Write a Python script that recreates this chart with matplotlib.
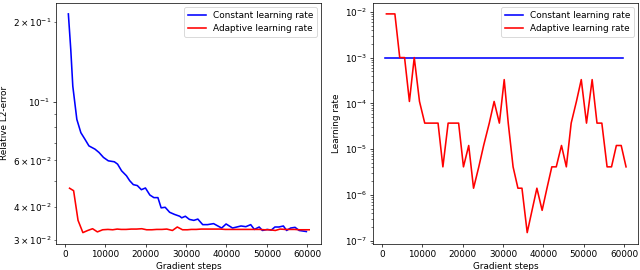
import matplotlib
matplotlib.use("Agg")
import matplotlib.pyplot as plt

# Data

# constant learning rate run (blue)
blue_steps = [800, 1400, 1900, 2900, 3900, 4900, 5900, 7400, 8400, 9500,
              10700, 12200, 13000, 14000, 15200, 16000, 16900, 17900, 18900, 19900,
              21000, 22000, 23000, 23800, 24800, 25900, 27100, 28400, 28900, 29800,
              30800, 31900, 32900, 34100, 35300, 36800, 38800, 39900, 41500, 43600,
              44800, 46000, 46900, 48100, 48900, 50100, 51100, 52000, 53000, 54100,
              54900, 55900, 57000, 58000, 59800]
blue_error = [0.2150, 0.1574, 0.1146, 0.0858, 0.0764, 0.0722, 0.0681, 0.0662, 0.0643, 0.0616,
              0.0598, 0.0593, 0.0581, 0.0548, 0.0525, 0.0503, 0.0486, 0.0482, 0.0465, 0.0472,
              0.0444, 0.0434, 0.0434, 0.0397, 0.0399, 0.0382, 0.0375, 0.0369, 0.0364, 0.0369,
              0.0359, 0.0356, 0.0360, 0.0343, 0.0343, 0.0346, 0.0333, 0.0345, 0.0333, 0.0339,
              0.0337, 0.0343, 0.0329, 0.0336, 0.0326, 0.0329, 0.0327, 0.0336, 0.0336, 0.0339,
              0.0326, 0.0333, 0.0335, 0.0326, 0.0323]
blue_lr = 1e-3

# adaptive learning rate run (red)
red_steps = [1100, 2100, 3200, 4400, 5600, 6800, 8000, 9300, 10600, 11800,
             12900, 13900, 15100, 16400, 17700, 19000, 20200, 21500, 22700, 24000,
             25200, 26600, 27800, 29100, 30300, 31300, 32500, 33700, 34700, 36000,
             37200, 38400, 39700, 40900, 42100, 43200, 44500, 45700, 46900, 48200,
             49400, 50700, 52100, 53300, 54500, 55800, 56900, 58100, 59300, 60500]
red_error = [0.0471, 0.0461, 0.0356, 0.0320, 0.0326, 0.0331, 0.0322, 0.0328, 0.0329, 0.0328,
             0.0330, 0.0329, 0.0329, 0.0330, 0.0330, 0.0331, 0.0328, 0.0328, 0.0329, 0.0329,
             0.0330, 0.0326, 0.0336, 0.0328, 0.0328, 0.0329, 0.0329, 0.0330, 0.0330, 0.0330,
             0.0330, 0.0330, 0.0329, 0.0329, 0.0329, 0.0329, 0.0329, 0.0329, 0.0329, 0.0329,
             0.0328, 0.0328, 0.0326, 0.0330, 0.0329, 0.0329, 0.0329, 0.0328, 0.0328, 0.0328]
red_lr = [9e-3, 9e-3, 9e-3, 1e-3, 1e-3, 1.1e-4, 1e-3, 1.1e-4, 3.7e-5, 3.7e-5,
          3.7e-5, 3.7e-5, 4.1e-6, 3.7e-5, 3.7e-5, 3.7e-5, 4.1e-6, 1.2e-5, 1.4e-6, 4.1e-6,
          1.2e-5, 3.7e-5, 1.1e-4, 3.7e-5, 3.3e-4, 3.7e-5, 4.1e-6, 1.4e-6, 1.4e-6, 1.5e-7,
          4.6e-7, 1.4e-6, 4.6e-7, 1.4e-6, 4.1e-6, 4.1e-6, 1.2e-5, 4.1e-6, 3.7e-5, 1.1e-4,
          3.3e-4, 3.7e-5, 3.3e-4, 3.7e-5, 3.7e-5, 4.1e-6, 4.1e-6, 1.2e-5, 1.2e-5, 4.1e-6]

# figure drawn at a 10 inch width and 64 dpi -> 640x270 px
fig, (ax1, ax2) = plt.subplots(1, 2, figsize=(10, 4.21875), dpi=64)
fig.subplots_adjust(left=0.088, right=0.997, bottom=0.098, top=0.989, wspace=0.196)

# error plot
ax1.plot(blue_steps, blue_error, color="b", lw=1.8, label="Constant learning rate")
ax1.plot(red_steps, red_error, color="r", lw=1.8, label="Adaptive learning rate")
ax1.set_yscale("log")
ax1.set_xlabel("Gradient steps")
ax1.set_ylabel("Relative L2-error")
ax1.legend(loc="upper right")

# learning rate plot
ax2.plot([blue_steps[0], blue_steps[-1]], [blue_lr, blue_lr], color="b", lw=1.8,
         label="Constant learning rate")
ax2.plot(red_steps, red_lr, color="r", lw=1.8, label="Adaptive learning rate")
ax2.set_yscale("log")
ax2.set_xlabel("Gradient steps")
ax2.set_ylabel("Learning rate")
ax2.legend(loc="upper right")

plt.savefig("out.png", dpi=64)
